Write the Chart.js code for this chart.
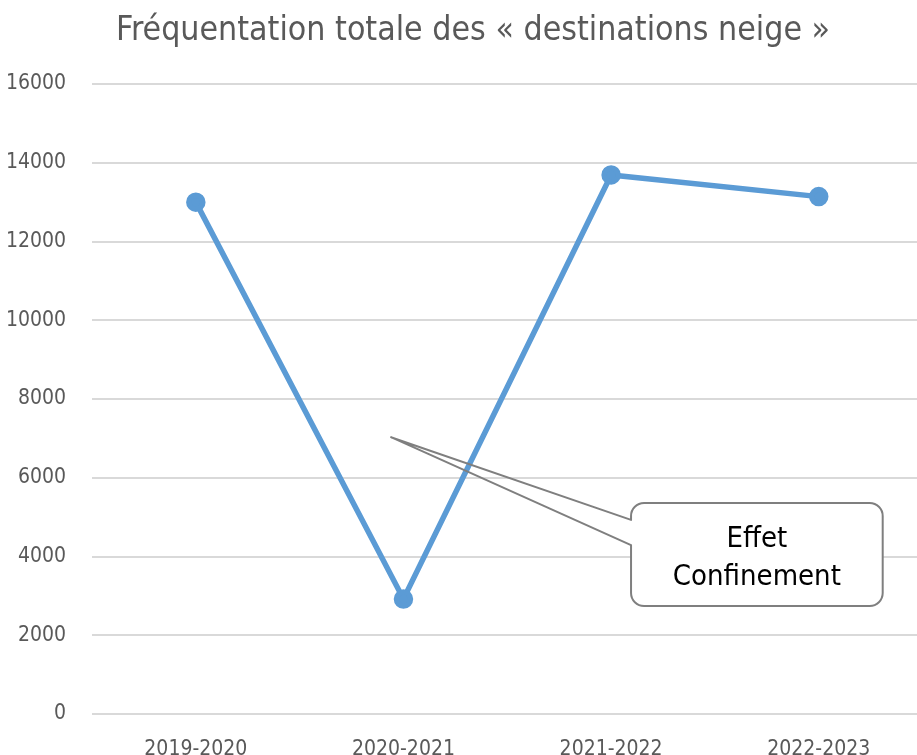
<!DOCTYPE html>
<html>
<head>
<meta charset="utf-8">
<script src="https://cdn.jsdelivr.net/npm/chart.js@4/dist/chart.umd.min.js"></script>
<style>
  html, body { margin: 0; padding: 0; background: #fff; overflow: hidden; }
  canvas { display: block; }
</style>
</head>
<body>
<canvas id="neigeChart" width="917" height="755"></canvas>
<script>
// saisons et fréquentation
const seasons = ['2019-2020', '2020-2021', '2021-2022', '2022-2023'];
const visits = [13000, 2920, 13690, 13140];
const yTicks = [0, 2000, 4000, 6000, 8000, 10000, 12000, 14000, 16000];

const chartTitle = 'Fréquentation totale des « destinations neige »';
const calloutLines = ['Effet', 'Confinement'];

// position de la bulle, en unités des axes (index de saison, valeur)
const calloutPos = {
  tip: { x: 0.94, y: 7030 },
  left: 2.096, right: 3.308, top: 5360, bottom: 2740,
  base1: 4930, base2: 4290
};

const font = "'DejaVu Sans Condensed', 'DejaVu Sans', sans-serif";
const gridColor = '#d9d9d9';

// titre dessiné à la main (centré comme dans l'original, un peu à droite)
const titlePlugin = {
  id: 'manualTitle',
  beforeDraw(chart) {
    const ctx = chart.ctx;
    ctx.save();
    ctx.fillStyle = '#595959';
    ctx.font = "33.6px " + font;
    ctx.textAlign = 'center';
    ctx.textBaseline = 'middle';
    ctx.fillText(chartTitle, 473, 31);
    ctx.restore();
  },
  // la grille déborde jusqu'au bord droit de l'image
  beforeDatasetsDraw(chart) {
    const ctx = chart.ctx, ys = chart.scales.y, area = chart.chartArea;
    ctx.save();
    ctx.strokeStyle = gridColor;
    ctx.lineWidth = 2;
    yTicks.forEach(v => {
      const y = Math.round(ys.getPixelForValue(v) - 1) + 1;
      ctx.beginPath();
      ctx.moveTo(area.right - 1, y);
      ctx.lineTo(chart.width, y);
      ctx.stroke();
    });
    ctx.restore();
  }
};

const calloutPlugin = {
  id: 'callout',
  afterDatasetsDraw(chart) {
    const ctx = chart.ctx;
    const xs = chart.scales.x, ys = chart.scales.y;
    const tx = xs.getPixelForValue(calloutPos.tip.x), ty = ys.getPixelForValue(calloutPos.tip.y);
    const l = xs.getPixelForValue(calloutPos.left), r = xs.getPixelForValue(calloutPos.right);
    const t = ys.getPixelForValue(calloutPos.top), b = ys.getPixelForValue(calloutPos.bottom);
    const b1 = ys.getPixelForValue(calloutPos.base1), b2 = ys.getPixelForValue(calloutPos.base2);
    const rad = 13;
    ctx.save();
    // fond blanc de la bulle
    ctx.beginPath();
    ctx.roundRect(l, t, r - l, b - t, rad);
    ctx.fillStyle = '#fff';
    ctx.fill();
    // contour avec la pointe
    ctx.beginPath();
    ctx.moveTo(l, b1);
    ctx.lineTo(tx, ty);
    ctx.lineTo(l, b2);
    ctx.lineTo(l, b - rad);
    ctx.arcTo(l, b, l + rad, b, rad);
    ctx.lineTo(r - rad, b);
    ctx.arcTo(r, b, r, b - rad, rad);
    ctx.lineTo(r, t + rad);
    ctx.arcTo(r, t, r - rad, t, rad);
    ctx.lineTo(l + rad, t);
    ctx.arcTo(l, t, l, t + rad, rad);
    ctx.closePath();
    ctx.strokeStyle = '#7f7f7f';
    ctx.lineWidth = 2;
    ctx.lineJoin = 'round';
    ctx.stroke();
    // texte
    ctx.fillStyle = '#000';
    ctx.font = "29px " + font;
    ctx.textAlign = 'center';
    ctx.textBaseline = 'middle';
    const cx = (l + r) / 2, cy = (t + b) / 2;
    ctx.fillText(calloutLines[0], cx, cy - 15);
    ctx.fillText(calloutLines[1], cx, cy + 23);
    ctx.restore();
  }
};

new Chart(document.getElementById('neigeChart'), {
  type: 'line',
  data: {
    datasets: [{
      label: 'Fréquentation',
      data: visits.map((v, i) => ({ x: i, y: v })),
      borderColor: '#5b9bd5',
      backgroundColor: '#5b9bd5',
      borderWidth: 5.5,
      pointRadius: 7,
      pointHoverRadius: 7,
      tension: 0
    }]
  },
  options: {
    responsive: false,
    animation: false,
    layout: { padding: { top: 84, left: 0, right: 0, bottom: 0 } },
    plugins: {
      legend: { display: false },
      tooltip: { enabled: false },
      title: { display: false }
    },
    scales: {
      x: {
        type: 'linear',
        min: -0.5,
        max: 3.413,
        afterBuildTicks: axis => { axis.ticks = seasons.map((s, i) => ({ value: i })); },
        afterFit: axis => { axis.height = 41; axis.paddingLeft = 0; axis.paddingRight = 0; },
        ticks: {
          callback: v => seasons[v],
          color: '#595959',
          font: { family: font, size: 21 },
          padding: 15,
          maxRotation: 0
        },
        grid: { display: false },
        border: { display: false }
      },
      y: {
        min: 0,
        max: 16000,
        afterBuildTicks: axis => { axis.ticks = yTicks.map(v => ({ value: v })); },
        afterFit: axis => { axis.width = 92; axis.paddingTop = 0; axis.paddingBottom = 0; },
        ticks: {
          callback: v => String(v),
          color: '#595959',
          font: { family: font, size: 21 },
          padding: 26
        },
        grid: { color: gridColor, lineWidth: 2, drawTicks: false },
        border: { display: false }
      }
    }
  },
  plugins: [titlePlugin, calloutPlugin]
});
</script>
</body>
</html>
